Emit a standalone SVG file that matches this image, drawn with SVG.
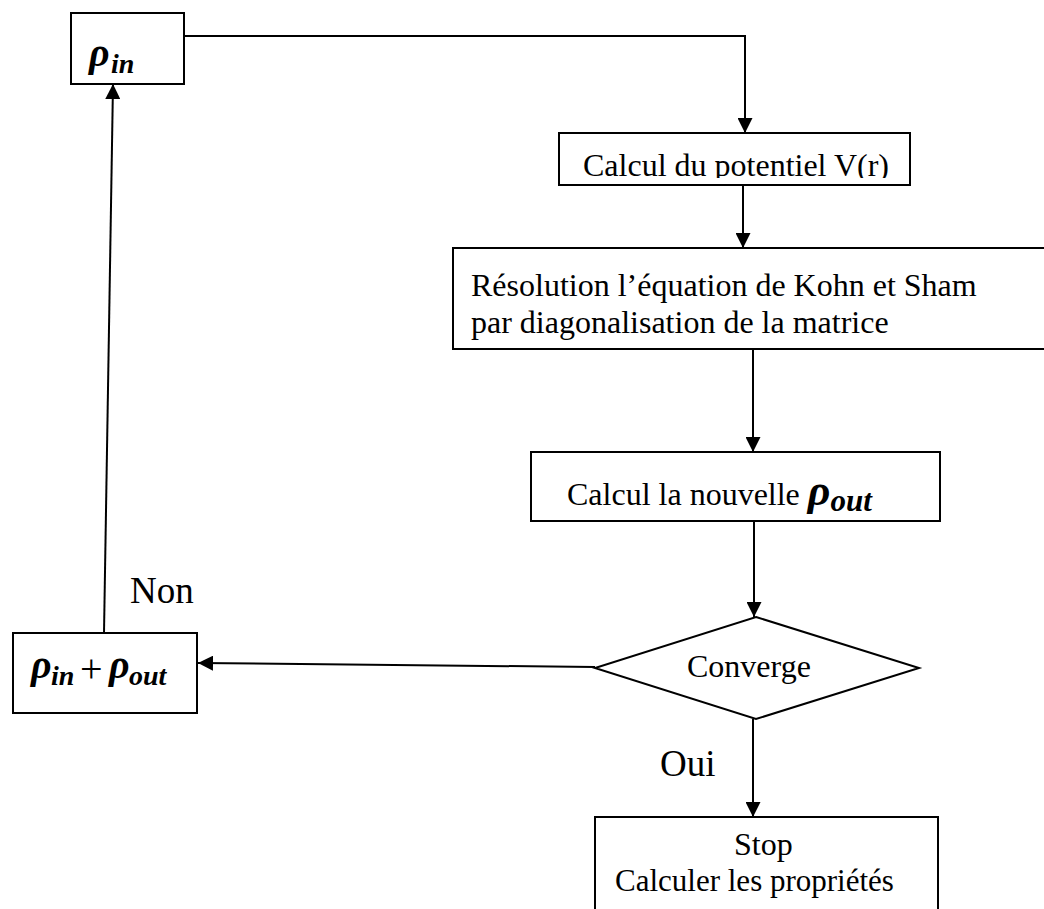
<svg xmlns="http://www.w3.org/2000/svg" width="1044" height="909" viewBox="0 0 1044 909">
<style>
.box{fill:#fff;stroke:#000;stroke-width:2}
.con{fill:none;stroke:#000;stroke-width:2}
.t{font-family:"Liberation Serif","Times New Roman",serif;font-size:32px;fill:#000}
.lbl{font-family:"Liberation Serif","Times New Roman",serif;font-size:37px;fill:#000}
.rho{font-family:"Liberation Serif","Times New Roman",serif;font-size:40px;font-style:italic;font-weight:bold;fill:#000}
.sub{font-family:"Liberation Serif","Times New Roman",serif;font-size:28px;font-style:italic;font-weight:bold;fill:#000}
</style>
<defs>
<marker id="arr" viewBox="0 0 15 15" refX="15" refY="7.5" markerWidth="15" markerHeight="15" markerUnits="userSpaceOnUse" orient="auto">
<path d="M0,0 L15,7.5 L0,15 z" fill="#000"/>
</marker>
<clipPath id="clip2"><rect x="559" y="133" width="351" height="45"/></clipPath>
</defs>
<rect width="1044" height="909" fill="#fff"/>
<g id="connectors">
<polyline class="con" points="184,36 745,36 745,133" marker-end="url(#arr)"/>
<line class="con" x1="743" y1="185" x2="743" y2="248" marker-end="url(#arr)"/>
<line class="con" x1="753" y1="349" x2="753" y2="452" marker-end="url(#arr)"/>
<line class="con" x1="754" y1="521" x2="754" y2="617" marker-end="url(#arr)"/>
<line class="con" x1="595" y1="667" x2="198" y2="663" marker-end="url(#arr)"/>
<line class="con" x1="104" y1="633" x2="113" y2="84" marker-end="url(#arr)"/>
<line class="con" x1="753" y1="719" x2="753" y2="817" marker-end="url(#arr)"/>
</g>
<g id="rho-in">
<rect class="box" x="71" y="13" width="113" height="71"/>
<text class="rho" x="89" y="66">ρ</text><text class="sub" x="111" y="73">in</text>
</g>
<g id="potentiel">
<rect class="box" x="559" y="133" width="351" height="52"/>
<text class="t" x="583" y="176" clip-path="url(#clip2)">Calcul du potentiel V(r)</text>
</g>
<g id="kohn-sham">
<rect class="box" x="453" y="248" width="620" height="101"/>
<text class="t" x="471" y="296">Résolution l’équation de Kohn et Sham</text>
<text class="t" x="471" y="333">par diagonalisation de la matrice</text>
</g>
<g id="rho-out">
<rect class="box" x="531" y="452" width="409" height="69"/>
<text class="t" x="567" y="505">Calcul la nouvelle <tspan class="rho" style="font-size:44px">ρ</tspan><tspan class="sub" style="font-size:31px" dy="6">out</tspan></text>
</g>
<g id="converge">
<polygon class="box" points="756,617 919,668 756,719 595,668"/>
<text class="t" x="687" y="677">Converge</text>
</g>
<g id="mix">
<rect class="box" x="13" y="633" width="184" height="80"/>
<text class="rho" x="31" y="678">ρ</text><text class="sub" x="51" y="685">in</text>
<text class="t" x="80" y="682" style="font-size:40px">+</text>
<text class="rho" x="109" y="678">ρ</text><text class="sub" x="129" y="685">out</text>
</g>
<g id="stop">
<rect class="box" x="595" y="817" width="343" height="120"/>
<text class="t" x="734" y="855">Stop</text>
<text class="t" x="615" y="891" style="font-size:31px">Calculer les propriétés</text>
</g>
<g id="labels">
<text class="lbl" x="130" y="603">Non</text>
<text class="lbl" x="660" y="776">Oui</text>
</g>
</svg>
